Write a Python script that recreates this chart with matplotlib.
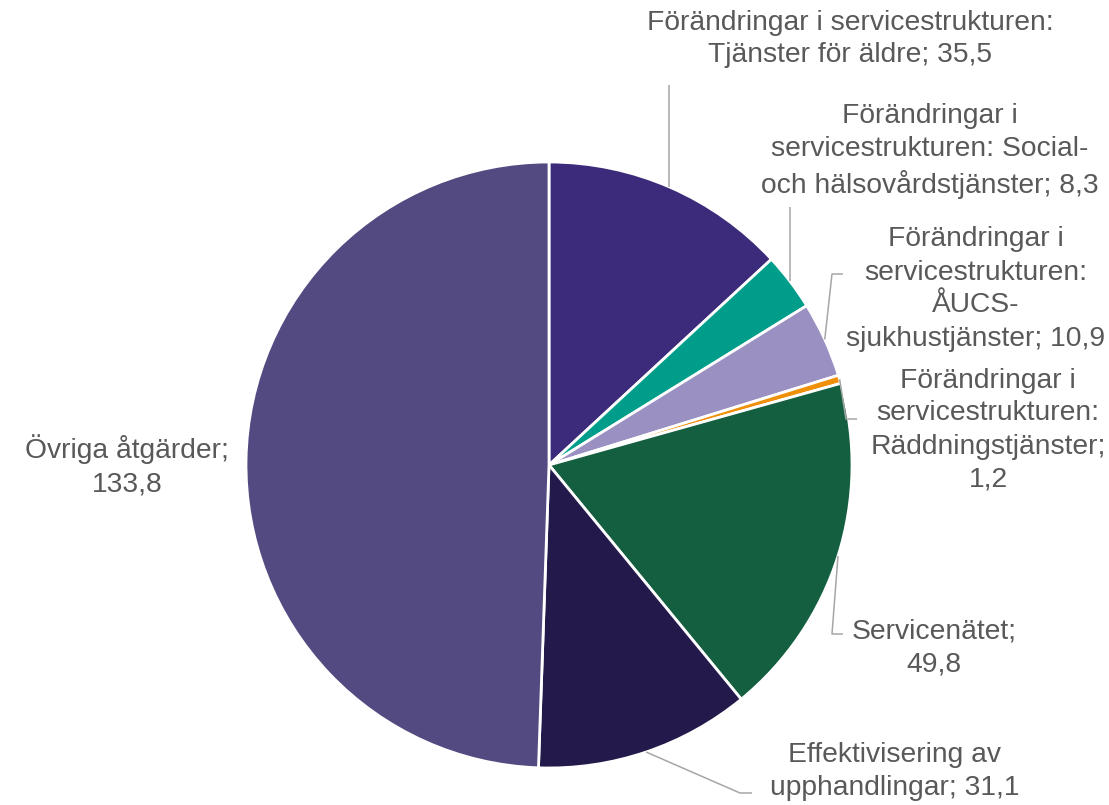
import numpy as np
import matplotlib
matplotlib.use("Agg")
import matplotlib.pyplot as plt

plt.rcParams['font.family'] = ['Liberation Sans', 'DejaVu Sans']

# Data
labels = [
    "Förändringar i servicestrukturen:\nTjänster för äldre; 35,5",
    "Förändringar i\nservicestrukturen: Social-\noch hälsovårdstjänster; 8,3",
    "Förändringar i\nservicestrukturen:\nÅUCS-\nsjukhustjänster; 10,9",
    "Förändringar i\nservicestrukturen:\nRäddningstjänster;\n1,2",
    "Servicenätet;\n49,8",
    "Effektivisering av\nupphandlingar; 31,1",
    "Övriga åtgärder;\n133,8",
]
values = [35.5, 8.3, 10.9, 1.2, 49.8, 31.1, 133.8]
colors = ["#3C2A7A", "#009E8A", "#9B90C2", "#F0900A", "#135F40", "#231A4B", "#524A80"]

W, H = 1109, 805
cx, cy, R = 549, 465, 303

# label layout in pixel coords (x center, y center)
label_pos = [(850, 39), (930, 151), (976, 289), (988, 430), (934, 648), (895, 771), (127, 466)]
# leader line elbows (pixel coords), None = no leader
leaders = [
    [(669, 85)],
    [(790, 207)],
    [(832, 274), (843, 274)],
    [(846, 419), (857, 419)],
    [(832, 634), (843, 634)],
    [(740, 793), (752, 793)],
    None,
]

fig = plt.figure(figsize=(W / 100, H / 100), dpi=100)
ax = fig.add_axes([0, 0, 1, 1])

wedges, _ = ax.pie(values, colors=colors, startangle=90, counterclock=False,
                   center=(cx, H - cy), radius=R,
                   wedgeprops=dict(edgecolor="white", linewidth=2))
ax.set_xlim(0, W)
ax.set_ylim(0, H)
ax.set_aspect("equal")
ax.axis("off")

for w, lab, pos, ld in zip(wedges, labels, label_pos, leaders):
    ax.text(pos[0], H - pos[1], lab, ha="center", va="center",
            fontsize=20.3, color="#595959", linespacing=1.35)
    if ld is None:
        continue
    if len(ld) == 1:
        # vertical leader hitting the pie edge
        x = ld[0][0]
        y_edge = cy - np.sqrt(R ** 2 - (x - cx) ** 2)
        xs = [x, x]
        ys = [ld[0][1], y_edge]
    else:
        mid = np.deg2rad((w.theta1 + w.theta2) / 2)
        sx = cx + R * np.cos(mid)
        sy = cy - R * np.sin(mid)
        xs = [sx] + [p[0] for p in ld]
        ys = [sy] + [p[1] for p in ld]
    ax.plot(xs, [H - y for y in ys], color="#A6A6A6", linewidth=1.1,
            solid_capstyle="butt")

fig.savefig("out.png", dpi=100)
